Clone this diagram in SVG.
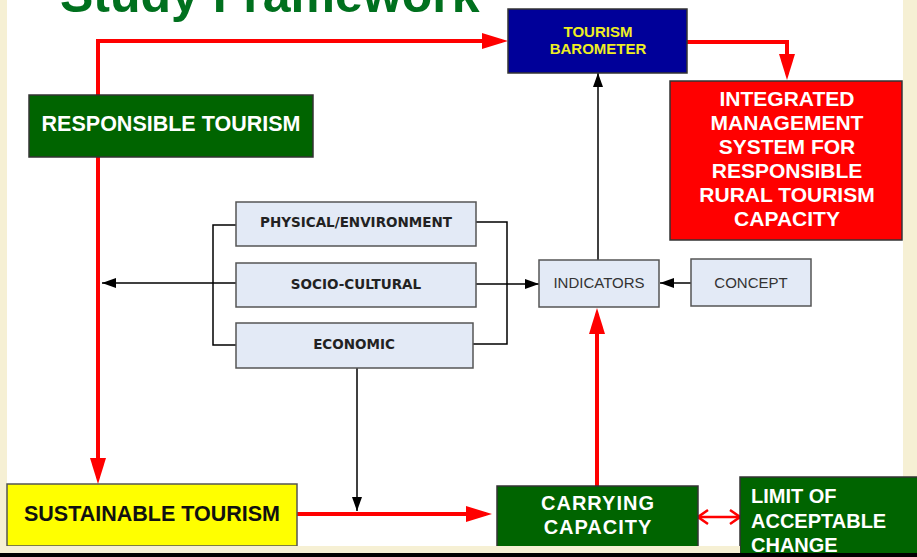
<svg xmlns="http://www.w3.org/2000/svg" width="917" height="557" viewBox="0 0 917 557">
  <style>
    .bold { font-family: "Liberation Sans", Arial, sans-serif; font-weight: bold; }
    .reg { font-family: "Liberation Sans", Arial, sans-serif; }
    .cat { font-family: "DejaVu Sans", Verdana, sans-serif; font-weight: bold; font-size: 13.5px; fill: #222; text-anchor: middle; }
    .green { fill: #006400; stroke: #333; stroke-width: 1.5; }
    .light { fill: #E3EAF6; stroke: #555; stroke-width: 1.5; }
    .red-line { fill: none; stroke: #FF0000; stroke-width: 4; }
    .blk-line { fill: none; stroke: #000; stroke-width: 1.5; }
  </style>
  <defs>
    <marker id="redHead" viewBox="0 0 26 16" refX="20" refY="8" markerWidth="26" markerHeight="16" markerUnits="userSpaceOnUse" orient="auto">
      <path d="M0,0 L26,8 L0,16 z" fill="#FF0000"/>
    </marker>
    <marker id="blkHead" viewBox="0 0 14 10" refX="14" refY="5" markerWidth="14" markerHeight="10" markerUnits="userSpaceOnUse" orient="auto">
      <path d="M0,0 L14,5 L0,10 z" fill="#000"/>
    </marker>
    <marker id="redChevron" viewBox="-2 -2 14 18" refX="10" refY="7" markerWidth="14" markerHeight="18" markerUnits="userSpaceOnUse" orient="auto-start-reverse">
      <path d="M0,0 L10,7 L0,14" fill="none" stroke="#FF0000" stroke-width="2.5"/>
    </marker>
  </defs>

  <!-- slide background: beige frame, white panel, dark footer band -->
  <rect x="0" y="0" width="917" height="557" fill="#F6F0D4"/>
  <rect x="7" y="0" width="896" height="546" fill="#FFFFFF"/>

  <!-- title, running off the top edge -->
  <text x="60" y="12" class="bold" font-size="50" fill="#00701E">Study Framework</text>

  <!-- connectors -->
  <g id="connectors">
    <path class="red-line" d="M98,95 V41 H502" marker-end="url(#redHead)"/>
    <path class="red-line" d="M687,42 H787 V74" marker-end="url(#redHead)"/>
    <path class="red-line" d="M98,157 V478" marker-end="url(#redHead)"/>
    <path class="red-line" d="M297,514 H486" marker-end="url(#redHead)"/>
    <path class="red-line" d="M597,486 V314" marker-end="url(#redHead)"/>
    <path d="M698,517 H740" fill="none" stroke="#FF0000" stroke-width="2.5" marker-start="url(#redChevron)" marker-end="url(#redChevron)"/>

    <path class="blk-line" d="M236,283 H102" marker-end="url(#blkHead)"/>
    <path class="blk-line" d="M236,225 H213 V345 H236"/>
    <path class="blk-line" d="M476,222 H507 V344 H473"/>
    <path class="blk-line" d="M476,284 H539" marker-end="url(#blkHead)"/>
    <path class="blk-line" d="M691,283 H660" marker-end="url(#blkHead)"/>
    <path class="blk-line" d="M598,260 V73" marker-end="url(#blkHead)"/>
    <path class="blk-line" d="M357,368 V511" marker-end="url(#blkHead)"/>
  </g>

  <g id="tourism-barometer">
    <rect x="508" y="9" width="179" height="64" fill="#000099" stroke="#333" stroke-width="1.5"/>
    <text x="598" y="37" class="bold" font-size="15" fill="#EEEE22" text-anchor="middle">TOURISM</text>
    <text x="598" y="54" class="bold" font-size="15" fill="#EEEE22" text-anchor="middle">BAROMETER</text>
  </g>

  <g id="integrated-management">
    <rect x="670" y="81" width="232" height="159" fill="#FF0000" stroke="#333" stroke-width="1.5"/>
    <g class="bold" font-size="21" fill="#FFFFFF" text-anchor="middle">
      <text x="787" y="106">INTEGRATED</text>
      <text x="787" y="130">MANAGEMENT</text>
      <text x="787" y="154">SYSTEM FOR</text>
      <text x="787" y="178">RESPONSIBLE</text>
      <text x="787" y="202">RURAL TOURISM</text>
      <text x="787" y="226">CAPACITY</text>
    </g>
  </g>

  <g id="responsible-tourism">
    <rect class="green" x="29" y="95" width="284" height="62"/>
    <text x="171" y="131" class="bold" font-size="21.5" fill="#FFFFFF" text-anchor="middle">RESPONSIBLE TOURISM</text>
  </g>

  <g id="physical-environment">
    <rect class="light" x="236" y="202" width="240" height="44"/>
    <text x="356" y="227" class="cat">PHYSICAL/ENVIRONMENT</text>
  </g>

  <g id="socio-cultural">
    <rect class="light" x="236" y="263" width="240" height="44"/>
    <text x="356" y="289" class="cat">SOCIO-CULTURAL</text>
  </g>

  <g id="economic">
    <rect class="light" x="236" y="323" width="237" height="45"/>
    <text x="354" y="349" class="cat">ECONOMIC</text>
  </g>

  <g id="indicators">
    <rect class="light" x="539" y="260" width="120" height="47"/>
    <text x="599" y="288" class="reg" font-size="15" fill="#333" text-anchor="middle">INDICATORS</text>
  </g>

  <g id="concept">
    <rect class="light" x="691" y="259" width="120" height="47"/>
    <text x="751" y="288" class="reg" font-size="15" fill="#333" text-anchor="middle">CONCEPT</text>
  </g>

  <g id="sustainable-tourism">
    <rect x="7" y="484" width="290" height="62" fill="#FFFF00" stroke="#555" stroke-width="1.5"/>
    <text x="152" y="521" class="bold" font-size="21.5" fill="#111" text-anchor="middle">SUSTAINABLE TOURISM</text>
  </g>

  <g id="carrying-capacity">
    <rect class="green" x="497" y="486" width="201" height="62"/>
    <text x="598" y="510" class="bold" font-size="20" letter-spacing="1" fill="#FFFFFF" text-anchor="middle">CARRYING</text>
    <text x="598" y="534" class="bold" font-size="20" letter-spacing="1" fill="#FFFFFF" text-anchor="middle">CAPACITY</text>
  </g>

  <g id="limit-of-acceptable-change">
    <rect class="green" x="740" y="477" width="180" height="80"/>
    <g class="bold" font-size="20" fill="#FFFFFF">
      <text x="751" y="503">LIMIT OF</text>
      <text x="751" y="528">ACCEPTABLE</text>
      <text x="751" y="552">CHANGE</text>
    </g>
  </g>

  <!-- footer band across the bottom of the slide -->
  <rect x="0" y="546" width="740" height="7" fill="#F6F0D4"/>
  <rect x="0" y="553" width="917" height="4" fill="#000"/>
</svg>
